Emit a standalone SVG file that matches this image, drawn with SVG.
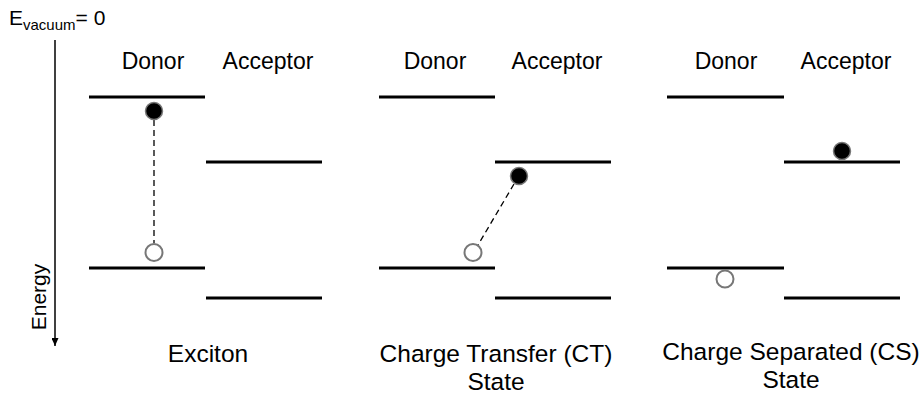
<svg xmlns="http://www.w3.org/2000/svg" width="922" height="396" viewBox="0 0 922 396">
<style>
text{font-family:"Liberation Sans",Arial,sans-serif;fill:#000}
.h{font-size:23px;text-anchor:middle}
.b{font-size:24.5px;text-anchor:middle}
.lvl{stroke:#000;stroke-width:3;fill:none}
.e{fill:#000;stroke:#777;stroke-width:1.5}
.hole{fill:#fff;stroke:#777;stroke-width:2}
.dash{stroke:#000;stroke-width:1.3;stroke-dasharray:6 4;fill:none}
</style>
<defs>
<marker id="ah" viewBox="0 0 10 10" refX="10" refY="5" markerWidth="8" markerHeight="7" orient="auto" markerUnits="userSpaceOnUse" preserveAspectRatio="none">
<path d="M0,0 L10,5 L0,10 Z" fill="#000"/>
</marker>
</defs>
<g id="axis">
<text x="9" y="25" font-size="21">E<tspan font-size="15" dy="5">vacuum</tspan><tspan dy="-5">= 0</tspan></text>
<line x1="55" y1="40" x2="55" y2="346" stroke="#000" stroke-width="1.5" marker-end="url(#ah)"/>
<text transform="translate(46,297) rotate(-90)" font-size="21" text-anchor="middle">Energy</text>
</g>
<g id="exciton">
<text class="h" x="153" y="69">Donor</text>
<text class="h" x="268" y="69">Acceptor</text>
<line class="lvl" x1="89" y1="97" x2="205" y2="97"/>
<line class="lvl" x1="206" y1="162" x2="322" y2="162"/>
<line class="lvl" x1="89" y1="268" x2="205" y2="268"/>
<line class="lvl" x1="206" y1="298" x2="322" y2="298"/>
<text class="b" x="208" y="362">Exciton</text>
</g>
<g id="ct">
<text class="h" x="435" y="69">Donor</text>
<text class="h" x="557" y="69">Acceptor</text>
<line class="lvl" x1="379" y1="97" x2="495" y2="97"/>
<line class="lvl" x1="495" y1="162" x2="611" y2="162"/>
<line class="lvl" x1="379" y1="268" x2="495" y2="268"/>
<line class="lvl" x1="495" y1="298" x2="611" y2="298"/>
<text class="b" x="496" y="362">Charge Transfer (CT)</text>
<text class="b" x="496" y="390">State</text>
</g>
<g id="cs">
<text class="h" x="726" y="69">Donor</text>
<text class="h" x="846" y="69">Acceptor</text>
<line class="lvl" x1="667" y1="97" x2="784" y2="97"/>
<line class="lvl" x1="784" y1="162" x2="900" y2="162"/>
<line class="lvl" x1="667" y1="268" x2="784" y2="268"/>
<line class="lvl" x1="784" y1="298" x2="900" y2="298"/>
<text class="b" x="791" y="360">Charge Separated (CS)</text>
<text class="b" x="791" y="388">State</text>
</g>
<g id="connectors">
<line class="dash" x1="154" y1="120" x2="154" y2="243"/>
<line class="dash" x1="514" y1="184" x2="478" y2="245"/>
</g>
<g id="carriers">
<circle class="e" cx="154" cy="111" r="8.5"/>
<circle class="hole" cx="154" cy="252.5" r="8.5"/>
<circle class="e" cx="519" cy="176" r="8.5"/>
<circle class="hole" cx="473" cy="252.5" r="8.5"/>
<circle class="e" cx="842" cy="151" r="8.5"/>
<circle class="hole" cx="725" cy="279" r="8.5"/>
</g>
</svg>
